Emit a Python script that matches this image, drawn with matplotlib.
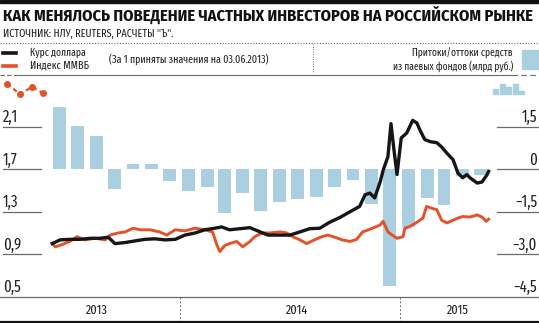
import matplotlib
matplotlib.use("Agg")
import matplotlib.pyplot as plt
import matplotlib.dates as mdates
from matplotlib.lines import Line2D
from matplotlib.patches import Rectangle
import pandas as pd

plt.rcParams['font.family'] = ['Fira Sans Extra Condensed', 'Fira Sans Condensed', 'DejaVu Sans']

# --- data ---
usd_dates = ["2013-06-03", "2013-06-16", "2013-07-02", "2013-07-19", "2013-08-05", "2013-08-21",
             "2013-09-04", "2013-09-15", "2013-10-02", "2013-10-18", "2013-11-04", "2013-11-20",
             "2013-12-07", "2013-12-24", "2014-01-09", "2014-01-26", "2014-02-11", "2014-02-28",
             "2014-03-11", "2014-03-24", "2014-04-10", "2014-04-27", "2014-05-14", "2014-05-27",
             "2014-06-16", "2014-07-02", "2014-07-19", "2014-08-04", "2014-08-21", "2014-09-06",
             "2014-09-23", "2014-10-10", "2014-10-26", "2014-11-04", "2014-11-12", "2014-11-20",
             "2014-11-29", "2014-12-04", "2014-12-12", "2014-12-17", "2014-12-22", "2014-12-27",
             "2015-01-03", "2015-01-12", "2015-01-22", "2015-01-29", "2015-02-03", "2015-02-11",
             "2015-02-20", "2015-03-03", "2015-03-11", "2015-03-20", "2015-03-30", "2015-04-07",
             "2015-04-15", "2015-04-22", "2015-04-27", "2015-05-09", "2015-05-17", "2015-05-25",
             "2015-05-28"]
usd = [1.00, 1.035, 1.04, 1.04, 1.05, 1.05,
       1.06, 1.00, 1.01, 1.025, 1.04, 1.045,
       1.035, 1.04, 1.08, 1.10, 1.13, 1.145,
       1.157, 1.13, 1.14, 1.15, 1.11, 1.08,
       1.08, 1.08, 1.11, 1.14, 1.145, 1.20,
       1.245, 1.30, 1.35, 1.46, 1.475, 1.43,
       1.58, 1.69, 1.82, 2.13, 1.88, 1.65,
       1.995, 2.04, 2.16, 2.136, 2.07, 1.98,
       1.96, 1.95, 1.91, 1.85, 1.79, 1.665,
       1.62, 1.65, 1.62, 1.57, 1.58, 1.645,
       1.68]

micex_dates = ["2013-06-03", "2013-06-08", "2013-06-19", "2013-07-02", "2013-07-14", "2013-07-27",
               "2013-08-13", "2013-08-30", "2013-09-07", "2013-09-20", "2013-10-02", "2013-10-15",
               "2013-10-27", "2013-11-12", "2013-11-28", "2013-12-10", "2013-12-24", "2014-01-09",
               "2014-01-26", "2014-02-11", "2014-02-24", "2014-03-03", "2014-03-08", "2014-03-16",
               "2014-03-24", "2014-04-05", "2014-04-15", "2014-04-27", "2014-05-05", "2014-05-17",
               "2014-05-30", "2014-06-16", "2014-06-27", "2014-07-07", "2014-07-19", "2014-07-30",
               "2014-08-12", "2014-08-24", "2014-09-03", "2014-09-15", "2014-09-27", "2014-10-10",
               "2014-10-21", "2014-10-31", "2014-11-12", "2014-11-29", "2014-12-04", "2014-12-12",
               "2014-12-19", "2014-12-27", "2015-01-06", "2015-01-09", "2015-01-17", "2015-01-26",
               "2015-02-03", "2015-02-08", "2015-02-14", "2015-02-24", "2015-03-03", "2015-03-11",
               "2015-03-20", "2015-03-30", "2015-04-07", "2015-04-15", "2015-04-27", "2015-05-09",
               "2015-05-17", "2015-05-24", "2015-05-28"]
micex = [1.00, 0.97, 0.99, 1.02, 1.065, 1.035,
         1.05, 1.035, 1.08, 1.10, 1.11, 1.145,
         1.13, 1.13, 1.11, 1.08, 1.13, 1.12,
         1.145, 1.13, 1.11, 0.99, 0.925, 0.98,
         1.00, 1.02, 0.97, 1.02, 1.065, 1.10,
         1.10, 1.11, 1.10, 1.065, 1.035, 1.00,
         1.035, 1.065, 1.08, 1.06, 1.035, 1.02,
         1.04, 1.11, 1.135, 1.175, 1.21, 1.11,
         1.08, 1.05, 1.065, 1.145, 1.16, 1.19,
         1.22, 1.24, 1.35, 1.33, 1.32, 1.22,
         1.195, 1.22, 1.24, 1.255, 1.25, 1.27,
         1.25, 1.21, 1.23]

# monthly flows, June 2013 .. May 2015 (bars drawn mid-month)
fund_months = pd.date_range("2013-06-01", periods=24, freq="MS") + pd.Timedelta(days=14)
fund_flows = [2.20, 1.53, 1.18, -0.70, 0.19, 0.20, -0.41, -0.77, -0.62, -1.54, -0.84, -1.47,
              -1.15, -1.05, -0.98, -0.62, -0.38, -1.22, -4.12, -2.04, -1.01, -1.26, -0.25, -0.20]

left_ticks = [2.1, 1.7, 1.3, 0.9, 0.5]
left_labels = ["2,1", "1,7", "1,3", "0,9", "0,5"]
right_ticks = [1.5, 0, -1.5, -3.0, -4.5]
right_labels = ["1,5", "0", "\u22121,5", "\u22123,0", "\u22124,5"]
years = ["2013", "2014", "2015"]

# --- colours ---
BLUE = "#a9cfe1"
RED = "#e5512a"
BLACK = "#161616"
GREY = "#6a6a6a"
TXT = "#222222"

W, H = 539, 323
fig = plt.figure(figsize=(W / 100, H / 100), dpi=100)
fx = lambda px: px / W
fy = lambda py: 1 - py / H


def fit(t, width):
    # scale a text so it spans the same width as in the reference
    fig.canvas.draw()
    t.set_fontsize(t.get_fontsize() * width / t.get_window_extent().width)
    return t


# axes: pixel 100 .. 296.7 vertically, full width
ax = fig.add_axes([0, fy(296.7), 1, (296.7 - 100) / H])
ax2 = ax.twinx()
x0 = mdates.date2num(pd.Timestamp("2014-01-01"))
ax.set_xlim(x0 - 298.7, x0 + 595.6)
ax.set_ylim(-4.5, 2.446)
ax2.set_ylim(0.5, 2.352)
ax.set_axis_off()
ax2.set_axis_off()

ax.bar(fund_months, fund_flows, width=21.5, color=BLUE, zorder=1)
ax2.plot(pd.to_datetime(micex_dates), micex, color=RED, lw=2.1, solid_joinstyle='round', zorder=3)
ax2.plot(pd.to_datetime(usd_dates), usd, color=BLACK, lw=2.4, solid_joinstyle='round', zorder=4)

# short grid lines + labels
tl = ax2.get_yaxis_transform()
for v, s in zip(left_ticks, left_labels):
    if v > 0.5:
        ax2.plot([3 / W, 41 / W], [v, v], transform=tl, color=GREY, lw=0.9, clip_on=False)
    ax2.text(3 / W, v + 0.01, s, transform=tl, ha='left', va='bottom', size=11.5, color=TXT)
tr = ax.get_yaxis_transform()
for v, s in zip(right_ticks, right_labels):
    if v > -4.5:
        ax.plot([497 / W, 1], [v, v], transform=tr, color=GREY, lw=0.9, clip_on=False)
    ax.text(537 / W, v + 0.04, s, transform=tr, ha='right', va='bottom', size=11.5, color=TXT)

# bottom axis and year band
fig.add_artist(Line2D([0, 1], [fy(296.7)] * 2, color=GREY, lw=0.9))
for d in ["2014-01-01", "2015-01-01"]:
    xd = mdates.date2num(pd.Timestamp(d))
    ax.plot([xd, xd], [0, -24 / 196.7], transform=ax.get_xaxis_transform(),
            color=GREY, lw=0.7, ls=(0, (2, 2)), clip_on=False)
for s, px in zip(years, [97, 297, 458]):
    fig.text(fx(px), fy(310), s, ha='center', va='center', size=9.5, color=TXT)
fig.add_artist(Line2D([0, 1], [fy(321.5)] * 2, color="#111", lw=1.6))

# header
fig.add_artist(Rectangle((0, fy(2.5)), 1, 2.5 / H, color="#111"))
title = fig.text(fx(3), fy(16), "КАК МЕНЯЛОСЬ ПОВЕДЕНИЕ ЧАСТНЫХ ИНВЕСТОРОВ НА РОССИЙСКОМ РЫНКЕ",
                 ha='left', va='center', size=14, weight='bold', color="#111",
                 family=['Fira Sans Condensed', 'DejaVu Sans'])
fit(title, 533)
fit(fig.text(fx(3), fy(34), "ИСТОЧНИК: НЛУ, REUTERS, РАСЧЕТЫ \"Ъ\".", ha='left', va='center',
             size=9, color=TXT), 170)
fig.add_artist(Line2D([0, 1], [fy(43)] * 2, color=GREY, lw=0.8, ls=(0, (1, 1.5))))

# legend
fig.add_artist(Line2D([fx(3), fx(16)], [fy(53)] * 2, color=BLACK, lw=2.6))
fig.add_artist(Line2D([fx(3), fx(16)], [fy(66)] * 2, color=RED, lw=2.6))
fit(fig.text(fx(30), fy(53), "Курс доллара", ha='left', va='center', size=10, color=TXT), 56)
fit(fig.text(fx(30), fy(66), "Индекс ММВБ", ha='left', va='center', size=10, color=TXT), 59)
fit(fig.text(fx(109), fy(59), "(За 1 приняты значения на 03.06.2013)", ha='left', va='center',
             size=10, color=TXT), 159)
fig.add_artist(Line2D([fx(313)] * 2, [fy(44), fy(73)], color=GREY, lw=0.7, ls=(0, (1, 1.5))))
fit(fig.text(fx(513), fy(53), "Притоки/оттоки средств", ha='right', va='center', size=10,
             color=TXT), 100)
fit(fig.text(fx(513), fy(66), "из паевых фондов (млрд руб.)", ha='right', va='center', size=10,
             color=TXT), 120)
fig.add_artist(Rectangle((fx(522), fy(69)), 1 - fx(522), 19 / H, color=BLUE))

# separator line with dashed ends
fig.add_artist(Line2D([fx(18), fx(512)], [fy(75)] * 2, color=GREY, lw=0.8))
fig.add_artist(Line2D([0, fx(18)], [fy(75)] * 2, color=GREY, lw=0.8, ls=(0, (4, 2))))
fig.add_artist(Line2D([fx(512), 1], [fy(75)] * 2, color=GREY, lw=0.8, ls=(0, (5, 3))))

# small icons under the header
fig.add_artist(Line2D([fx(7), fx(20), fx(32), fx(43)], [fy(84), fy(94), fy(87), fy(93)],
                      color=RED, lw=1.6, ls=(0, (2, 1.5)), marker='o', ms=4, mec=RED, mfc=RED))
for px, h in zip([493, 499.5, 506, 512.5, 519], [5, 10, 7, 10, 3]):
    fig.add_artist(Rectangle((fx(px), fy(94)), 5 / W, h / H, color=BLUE))

fig.savefig("out.png", dpi=100)
